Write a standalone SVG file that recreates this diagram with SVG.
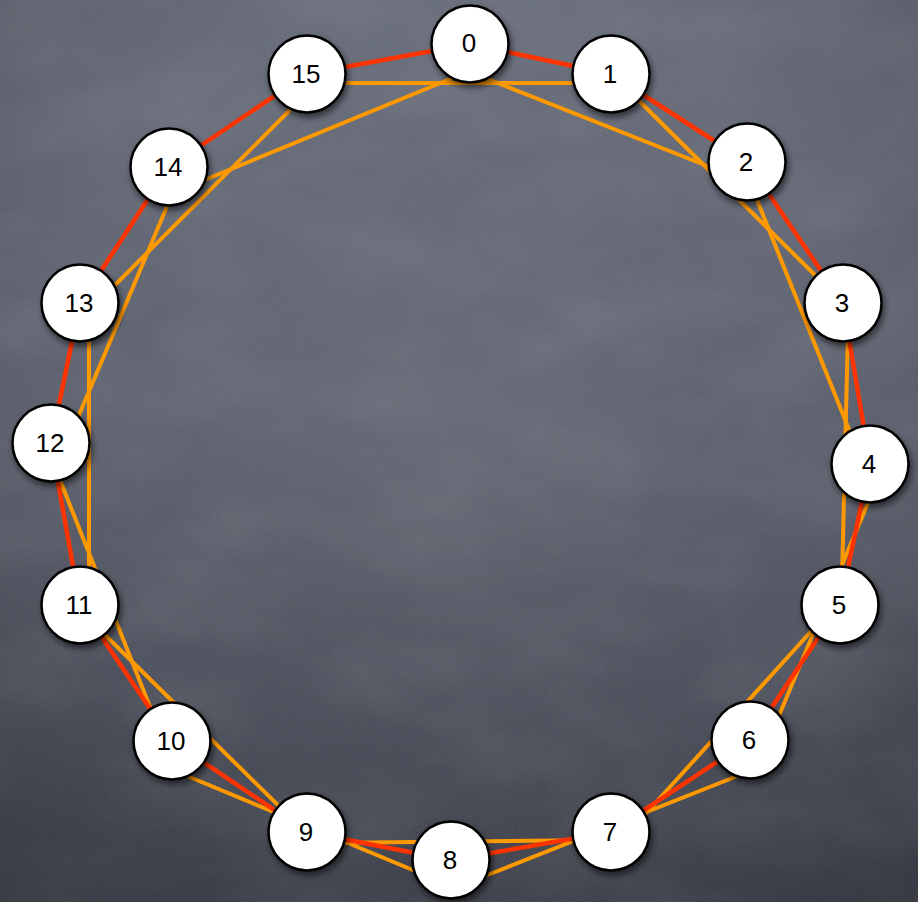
<svg xmlns="http://www.w3.org/2000/svg" width="918" height="902" viewBox="0 0 918 902">
  <defs>
    <linearGradient id="bg" x1="0" y1="0" x2="0" y2="1">
      <stop offset="0" stop-color="#636876"/>
      <stop offset="0.5" stop-color="#545966"/>
      <stop offset="1" stop-color="#393c47"/>
    </linearGradient>
    <radialGradient id="glow" cx="0.5" cy="0.5" r="0.5">
      <stop offset="0" stop-color="#ffffff" stop-opacity="0.06"/>
      <stop offset="1" stop-color="#ffffff" stop-opacity="0"/>
    </radialGradient>
    <radialGradient id="vign" cx="0.5" cy="0.45" r="0.75">
      <stop offset="0.6" stop-color="#000000" stop-opacity="0"/>
      <stop offset="1" stop-color="#000000" stop-opacity="0.18"/>
    </radialGradient>
    <filter id="noise" x="0" y="0" width="100%" height="100%">
      <feTurbulence type="fractalNoise" baseFrequency="0.9" numOctaves="2" seed="4"/>
      <feColorMatrix type="matrix" values="0 0 0 0 1  0 0 0 0 1  0 0 0 0 1  0.1 0 0 0 0"/>
    </filter>
    <filter id="smudge" x="0" y="0" width="100%" height="100%">
      <feTurbulence type="fractalNoise" baseFrequency="0.008 0.014" numOctaves="3" seed="11"/>
      <feColorMatrix type="matrix" values="0 0 0 0 1  0 0 0 0 1  0 0 0 0 1  0.12 0 0 0 -0.045"/>
    </filter>
    <filter id="shadow" x="-30%" y="-30%" width="170%" height="170%">
      <feDropShadow dx="2" dy="4" stdDeviation="3" flood-color="#000000" flood-opacity="0.55"/>
    </filter>
  </defs>
  <style>
    .red { stroke: #ff3300; stroke-width: 4.5; fill: none; }
    .org { stroke: #ff9900; stroke-width: 4; fill: none; }
    .node circle { fill: #ffffff; stroke: #000000; stroke-width: 2.5; filter: url(#shadow); }
    .node text { font-family: "Liberation Sans", Arial, sans-serif; font-size: 26px; fill: #000000; text-anchor: middle; }
  </style>

  <rect x="0" y="0" width="918" height="902" fill="url(#bg)"/>
  <rect x="0" y="0" width="918" height="902" filter="url(#smudge)"/>
  <ellipse cx="450" cy="440" rx="380" ry="330" fill="url(#glow)"/>
  <rect x="0" y="0" width="918" height="902" filter="url(#noise)"/>
  <rect x="0" y="0" width="918" height="902" fill="url(#vign)"/>

  <g id="connectors">
    <!-- i to i+2 chords -->
    <line class="org" x1="320" y1="83" x2="600" y2="83"/>
    <line class="org" x1="480" y1="76" x2="720" y2="171"/>
    <line class="org" x1="630" y1="92" x2="825" y2="285"/>
    <line class="org" x1="755" y1="195" x2="850" y2="432"/>
    <line class="org" x1="848" y1="330" x2="842" y2="580"/>
    <line class="org" x1="870" y1="498" x2="778" y2="718"/>
    <line class="org" x1="815" y1="627" x2="640" y2="820"/>
    <line class="org" x1="745" y1="773" x2="470" y2="882"/>
    <line class="org" x1="600" y1="840" x2="320" y2="843"/>
    <line class="org" x1="420" y1="873" x2="180" y2="773"/>
    <line class="org" x1="285" y1="812" x2="100" y2="630"/>
    <line class="org" x1="156" y1="722" x2="58" y2="475"/>
    <line class="org" x1="89" y1="590" x2="89" y2="320"/>
    <line class="org" x1="71" y1="434" x2="171" y2="197"/>
    <line class="org" x1="105" y1="295" x2="300" y2="100"/>
    <line class="org" x1="185" y1="188" x2="455" y2="77"/>
    <!-- i to i+1 -->
    <line class="red" x1="470" y1="44" x2="611" y2="74"/>
    <line class="red" x1="611" y1="74" x2="747" y2="162"/>
    <line class="red" x1="747" y1="162" x2="843" y2="303"/>
    <line class="red" x1="843" y1="303" x2="870" y2="464"/>
    <line class="red" x1="870" y1="464" x2="840" y2="605"/>
    <line class="red" x1="840" y1="605" x2="750" y2="740"/>
    <line class="red" x1="750" y1="740" x2="611" y2="832"/>
    <line class="red" x1="611" y1="832" x2="451" y2="860"/>
    <line class="red" x1="451" y1="860" x2="307" y2="832"/>
    <line class="red" x1="307" y1="832" x2="172" y2="741"/>
    <line class="red" x1="172" y1="741" x2="80" y2="605"/>
    <line class="red" x1="80" y1="605" x2="51" y2="443"/>
    <line class="red" x1="51" y1="443" x2="80" y2="303"/>
    <line class="red" x1="80" y1="303" x2="169" y2="167"/>
    <line class="red" x1="169" y1="167" x2="307" y2="74"/>
    <line class="red" x1="307" y1="74" x2="470" y2="44"/>
  </g>

  <g id="node-0" class="node"><circle cx="470" cy="44" r="38.5"/><text x="469" y="52">0</text></g>
  <g id="node-1" class="node"><circle cx="611" cy="74" r="38.5"/><text x="610" y="83">1</text></g>
  <g id="node-2" class="node"><circle cx="747" cy="162" r="38.5"/><text x="746" y="171">2</text></g>
  <g id="node-3" class="node"><circle cx="843" cy="303" r="38.5"/><text x="842" y="312">3</text></g>
  <g id="node-4" class="node"><circle cx="870" cy="464" r="38.5"/><text x="869" y="473">4</text></g>
  <g id="node-5" class="node"><circle cx="840" cy="605" r="38.5"/><text x="839" y="614">5</text></g>
  <g id="node-6" class="node"><circle cx="750" cy="740" r="38.5"/><text x="749" y="749">6</text></g>
  <g id="node-7" class="node"><circle cx="611" cy="832" r="38.5"/><text x="610" y="841">7</text></g>
  <g id="node-8" class="node"><circle cx="451" cy="860" r="38.5"/><text x="450" y="869">8</text></g>
  <g id="node-9" class="node"><circle cx="307" cy="832" r="38.5"/><text x="306" y="841">9</text></g>
  <g id="node-10" class="node"><circle cx="172" cy="741" r="38.5"/><text x="171" y="750">10</text></g>
  <g id="node-11" class="node"><circle cx="80" cy="605" r="38.5"/><text x="79" y="614">11</text></g>
  <g id="node-12" class="node"><circle cx="51" cy="443" r="38.5"/><text x="50" y="452">12</text></g>
  <g id="node-13" class="node"><circle cx="80" cy="303" r="38.5"/><text x="79" y="312">13</text></g>
  <g id="node-14" class="node"><circle cx="169" cy="167" r="38.5"/><text x="168" y="176">14</text></g>
  <g id="node-15" class="node"><circle cx="307" cy="74" r="38.5"/><text x="306" y="83">15</text></g>
</svg>
